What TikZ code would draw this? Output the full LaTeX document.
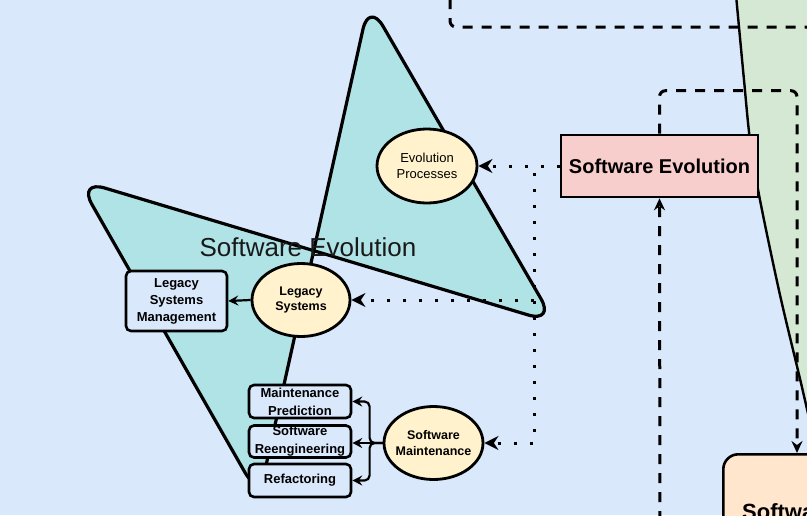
\documentclass[tikz,border=0pt]{standalone}
\usepackage{fontspec}
\setmainfont{Liberation Sans}
\usetikzlibrary{arrows.meta,shapes.geometric}
\definecolor{bgblue}{HTML}{DAE8FC}
\definecolor{greenbg}{HTML}{D5E8D4}
\definecolor{tealfill}{HTML}{B0E3E6}
\definecolor{ellfill}{HTML}{FFF2CC}
\definecolor{pinkfill}{HTML}{F8CECC}
\definecolor{peachfill}{HTML}{FFE6CC}
\begin{document}
\begin{tikzpicture}[x=1pt,y=-1pt,
  ellnode/.style={ellipse, draw, line width=2.8pt, fill=ellfill, inner sep=0pt},
  boxnode/.style={rectangle, draw, rounded corners=5pt, line width=2.6pt, fill=bgblue, inner sep=0pt},
  regtext/.style={font=\fontsize{13}{15.7}\selectfont, align=center, inner sep=0pt},
  boldtext/.style={font=\bfseries\fontsize{12.5}{15.5}\selectfont, align=center, inner sep=0pt},
  boxtext/.style={font=\bfseries\fontsize{13}{18}\selectfont, align=center, inner sep=0pt},
  dotline/.style={line width=3pt, dash pattern=on 3pt off 13pt, -{Stealth[length=14pt,width=14pt,inset=4.5pt]}},
  dashline/.style={line width=3pt, dash pattern=on 10pt off 9pt, rounded corners=6pt},
  dasharrow/.style={dashline, -{Stealth[length=12pt,width=11pt,inset=4pt]}},
  smallarrow/.style={line width=2.2pt, -{Stealth[length=10pt,width=10pt,inset=3.5pt]}},
]
\useasboundingbox (0,0) rectangle (807,515);
\clip (0,0) rectangle (807,515);
\fill[bgblue] (0,0) rectangle (807,515);

% green region on the right
\fill[greenbg] plot[smooth] coordinates {(736,-5) (744,80) (750,140) (760,200) (780,295) (801,383) (814,440)} -- (840,440) -- (840,-10) -- cycle;
\draw[line width=2.4pt] plot[smooth] coordinates {(736,-5) (744,80) (750,140) (760,200) (780,295) (801,383) (814,440)};

% bottom right box
\node[draw, line width=2.6pt, fill=peachfill, rounded corners=15pt, minimum width=140pt, minimum height=120pt, anchor=north west, inner sep=0pt] (BOT) at (722,453) {};
\node[anchor=base west, font=\bfseries\fontsize{22}{26}\selectfont, inner sep=0pt] (BOTt) at (742,519) {Software};

% teal bow-tie shape
\draw[line width=3.2pt, fill=tealfill, rounded corners=28pt, line join=round] (369,2) -- (555,323) -- (78,180) -- (259,497) -- cycle;
\node[font=\fontsize{26}{30}\selectfont, text=black!90, inner sep=0pt] (title) at (308,247.5) {Software Evolution};

% main nodes
\node[draw, line width=2.6pt, fill=pinkfill, minimum width=197pt, minimum height=62pt, inner sep=0pt, font=\bfseries\fontsize{20}{24}\selectfont] (SE) at (659.5,166) {Software Evolution};
\node[ellnode, minimum width=100pt, minimum height=74pt, label={[regtext]center:Evolution\\Processes}] (EP) at (427,166) {};
\node[ellnode, minimum width=98pt, minimum height=73pt, label={[boldtext]center:Legacy\\Systems}] (LS) at (301,300) {};
\node[ellnode, minimum width=99pt, minimum height=73pt, label={[boldtext]center:Software\\Maintenance}] (SM) at (433.5,443) {};
\node[boxnode, minimum width=101pt, minimum height=60pt, label={[boxtext, font=\bfseries\fontsize{13}{17}\selectfont]center:Legacy\\Systems\\Management}] (LSM) at (176.5,301) {};
\node[boxnode, minimum width=102pt, minimum height=33pt, label={[boxtext]center:Maintenance\\Prediction}] (MP) at (300,401.5) {};
\node[boxnode, minimum width=102pt, minimum height=32pt, label={[boxtext]center:Software\\Reengineering}] (SR) at (300,441.5) {};
\node[boxnode, minimum width=102pt, minimum height=33pt, label={[boxtext]center:Refactoring}] (RF) at (300,480.5) {};

% dashed connectors
\coordinate (topstart) at (450,-20);
\coordinate (topend) at (830,27);
\coordinate (botin) at (797,453);
\coordinate (botstart) at (660,540);
\draw[dashline] (topstart) |- (topend);
\draw[dasharrow] (SE.north) -- ++(0,-43) -| (botin);
\draw[dasharrow] (botstart) -- (SE.south);

% dotted connectors
\draw[dotline] (SE.west) -- (EP.east);
\draw[dotline] (SE.west) -- ++(-25,0) |- (LS.east);
\draw[dotline] (SE.west) -- ++(-25,0) |- (SM.east);

% solid arrows
\draw[smallarrow] (LS.west) -- (LSM.east);
\draw[smallarrow, rounded corners=5pt] (SM.west) -- ++(-13,0) |- (MP.east);
\draw[smallarrow] (SM.west) -- (SR.east |- SM.west);
\draw[smallarrow, rounded corners=5pt] (SM.west) -- ++(-13,0) |- (RF.east);
\end{tikzpicture}
\end{document}
